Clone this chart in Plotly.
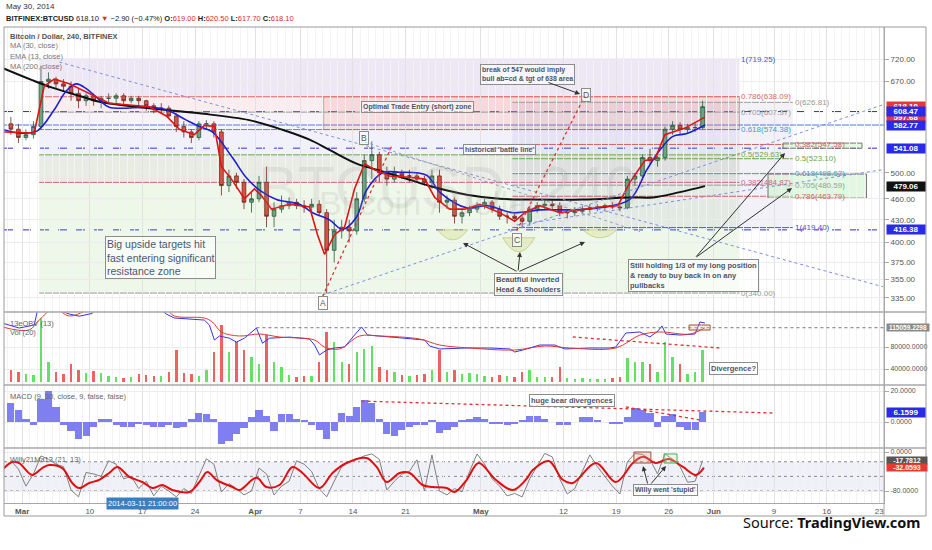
import numpy as np
import pandas as pd
import plotly.graph_objects as go

# ---------------- data ----------------
# daily candles (the original is 4h), Feb 27 - May 30 2014
days = pd.date_range('2014-02-27 12:00', '2014-05-30 12:00', freq='D')

opens = [585, 575,
         560, 565, 580, 670, 675, 665, 660, 645, 630, 640,
         630, 635, 635, 640, 630, 635, 630, 620, 615, 615,
         600, 580, 570, 560, 585, 585, 570, 480, 495, 485, 455,
         460, 485, 435, 445, 450, 455, 450, 448, 452, 440,
         390, 415, 420, 415, 460, 520, 530, 500, 490, 500,
         495, 495, 490, 485, 495, 455, 458, 435, 440, 445,
         450, 455, 445, 435, 435, 432, 428, 445, 450, 452,
         450, 440, 440, 442, 445, 447, 448, 450, 448, 447,
         490, 495, 525, 520, 525, 575, 582, 575, 578, 578]
highs = [598, 585,
         575, 590, 705, 690, 680, 675, 670, 655, 645, 645,
         640, 645, 645, 645, 640, 640, 632, 625, 625, 620,
         605, 590, 575, 590, 592, 590, 575, 505, 500, 490, 470,
         495, 510, 455, 465, 462, 460, 458, 460, 458, 445,
         430, 430, 430, 470, 530, 553, 535, 510, 510, 505,
         505, 500, 495, 505, 505, 465, 462, 445, 450, 455,
         460, 458, 450, 440, 440, 435, 450, 455, 458, 458,
         455, 445, 448, 450, 452, 452, 453, 455, 452, 495,
         500, 530, 540, 528, 580, 590, 588, 585, 588, 630]
lows = [565, 550,
        555, 558, 575, 655, 655, 650, 630, 615, 620, 620,
        615, 625, 625, 620, 625, 620, 610, 605, 605, 595,
        570, 560, 550, 555, 575, 560, 465, 470, 475, 445, 440,
        455, 420, 420, 440, 445, 445, 440, 440, 435, 340,
        375, 405, 400, 410, 455, 490, 485, 480, 485, 490,
        485, 485, 480, 475, 440, 445, 425, 425, 435, 440,
        445, 440, 430, 425, 428, 420, 422, 440, 445, 445,
        435, 432, 435, 438, 440, 442, 443, 445, 442, 445,
        480, 490, 515, 510, 520, 565, 565, 568, 570, 575]
closes = [575, 560,
          565, 580, 670, 675, 665, 660, 645, 630, 640, 630,
          635, 635, 640, 630, 635, 630, 620, 615, 615, 600,
          580, 570, 560, 585, 585, 570, 480, 495, 485, 455, 460,
          485, 435, 445, 450, 455, 450, 448, 452, 440, 390,
          415, 420, 415, 460, 520, 530, 500, 490, 500, 495,
          495, 490, 485, 495, 455, 458, 435, 440, 445, 450,
          455, 445, 435, 435, 432, 428, 445, 450, 452, 450,
          440, 440, 442, 445, 447, 448, 450, 448, 447, 490,
          495, 525, 520, 525, 575, 582, 575, 578, 578, 618.1]
volume = [12000, 10000,
          8000, 7000, 64000, 20000, 10000, 8000, 18000, 12000, 9000, 11000,
          9000, 6000, 5000, 4000, 5000, 8000, 7000, 6000, 6000, 10000,
          32000, 9000, 8000, 6000, 12000, 30000, 57000, 30000, 40000, 32000, 25000,
          18000, 47000, 20000, 15000, 7000, 5000, 6000, 6000, 20000, 50000,
          40000, 20000, 18000, 30000, 33000, 36000, 15000, 12000, 10000, 7000,
          6000, 7000, 8000, 12000, 32000, 10000, 12000, 8000, 9000, 8000,
          6000, 5000, 7000, 6000, 5000, 10000, 12000, 5000, 5000, 5000,
          15000, 4000, 3000, 4000, 3000, 3000, 3000, 4000, 5000, 24000,
          20000, 20000, 18000, 10000, 40000, 25000, 18000, 8000, 10000, 32000]
macd_hist = [12, 8,
             2, -2, 15, 20, 10, -2, -6, -11, -9, -3,
             2, 2, -2, -3, -3, -1, -2, -3, -3, -2,
             -4, -3, 2, 6, 5, 2, -14, -12, -8, -4, 3,
             8, 4, -6, 5, 5, 2, 1, -2, -5, -11,
             -6, 6, 4, 10, 14, 12, 2, -8, -9, -5,
             -3, -2, -2, 1, -7, -5, -3, 1, 2, 3,
             2, -1, -1, -2, -1, 1, 4, 4, 2, 0,
             -2, -2, 0, 3, 3, 1, 0, -1, -1, 3,
             9, 8, 6, -3, 4, 5, -3, -5, -5, 6.16]
willy = [-18, -35,
         -70, -45, -8, -15, -25, -30, -78, -92, -42, -45,
         -50, -18, -25, -55, -50, -75, -60, -90, -70, -80,
         -92, -75, -85, -50, -14, -25, -82, -65, -75, -88, -80,
         -33, -45, -88, -70, -60, -18, -25, -40, -75, -92,
         -60, -30, -20, -15, -8, -4, -15, -78, -60, -45,
         -40, -16, -80, -6, -80, -88, -75, -82, -40, -4,
         -25, -55, -70, -90, -85, -92, -55, -30, -3, -10,
         -55, -86, -75, -40, -6, -30, -50, -70, -86, -20,
         -3, -5, -15, -45, -4, -15, -30, -62, -60, -17.78]

# indicator lines; t = days since 2014-03-01
ema13_t = [-2.66, 1.6, 2.93, 4.26, 6.26, 8.92, 11.58, 16.91, 19.17, 20.91,
           22.90, 24.23, 25.57, 26.50, 27.83, 29.56, 30.89, 31.82, 33.16, 35.55,
           38.22, 39.28, 40.21, 41.54, 42.88, 44.21, 45.54, 46.87, 48.87, 51.53,
           53.53, 54.86, 56.86, 58.86, 60.85, 63.52, 65.51, 66.84, 68.84, 71.50,
           74.17, 76.83, 79.23, 80.83, 82.82, 84.15, 85.49, 88.15, 90.81]
ema13_v = [570, 568, 660, 675, 665, 645, 625, 618, 600, 575,
           565, 582, 580, 510, 490, 460, 475, 465, 445, 452,
           448, 410, 385, 410, 420, 475, 515, 505, 495, 493,
           490, 462, 445, 445, 452, 440, 428, 440, 450, 440,
           444, 448, 450, 485, 520, 522, 565, 577, 597.68]
ma30_t = [-2.66, -0.40, 2.00, 4.26, 5.86, 7.19, 8.52, 10.25, 11.58, 16.91,
          19.17, 21.84, 23.57, 25.30, 27.96, 29.83, 31.56, 33.82, 36.88, 38.62,
          40.88, 42.61, 44.47, 45.81, 47.94, 50.20, 53.79, 55.53, 59.12, 61.78,
          65.25, 68.84, 72.44, 76.83, 80.83, 83.09, 84.82, 86.55, 88.42, 90.81]
ma30_v = [575, 568, 572, 612, 650, 665, 655, 632, 617, 617,
          612, 592, 580, 570, 525, 492, 473, 459, 452, 440,
          430, 417, 434, 473, 500, 501, 496, 470, 447, 450,
          440, 444, 444, 447, 459, 505, 538, 562, 567, 582.77]
ma200_t = [-2.66, 1.33, 4.00, 7.99, 10.25, 16.91, 23.57, 30.2, 34.62, 38.22,
           40.88, 44.47, 47.14, 51.53, 54.59, 59.12, 63.52, 67.91, 74.57, 80.83,
           83.89, 87.48, 90.81]
ma200_v = [700, 673, 657, 638, 628, 615, 605, 592, 574, 556,
           538, 515, 505, 489, 478, 466, 460, 459, 459, 462,
           462, 470, 479.06]
obv_t = [-2.66, -0.40, 1.60, 2.26, 4.26, 6.26, 7.59, 9.32, 10.25, 14.25,
         18.24, 19.17, 20.24, 22.24, 24.23, 24.90, 25.57, 26.23, 27.56, 28.50,
         29.56, 31.16, 31.96, 32.89, 35.55, 38.22, 38.88, 39.55, 40.48, 41.54,
         42.88, 44.21, 45.14, 45.94, 47.54, 50.20, 53.53, 54.19, 55.53, 59.12,
         62.18, 64.85, 65.51, 66.58, 68.84, 70.84, 72.17, 75.50, 78.16, 78.96,
         80.29, 82.16, 83.49, 84.55, 85.09, 85.62, 87.48, 89.48, 90.15, 90.81]
obv_v = [123600, 114500, 120000, 160000, 150000, 140000, 136000, 141000, 155000, 160000,
         150000, 140000, 132700, 131000, 129000, 120000, 92700, 100000, 96000, 89000,
         96000, 114500, 87000, 96000, 98000, 94500, 83600, 65500, 74500, 78200,
         80000, 101800, 116400, 101800, 100000, 96400, 92700, 81800, 76400, 78200,
         78200, 76400, 70900, 74500, 83600, 83600, 76400, 78200, 78200, 80000,
         105400, 107300, 98200, 109000, 118200, 103600, 101800, 103600, 125500, 123600]
obv_sig_t = [-2.66, 0.93, 2.26, 4.26, 6.26, 9.59, 18.91, 20.24, 24.23, 25.30,
             26.50, 28.90, 31.56, 34.22, 38.88, 40.21, 42.21, 44.87, 47.54, 52.86,
             55.53, 59.52, 65.51, 69.51, 72.84, 78.96, 82.16, 84.82, 88.82, 90.81]
obv_sig_v = [116400, 111000, 129000, 150000, 136400, 150000, 150000, 136400, 132700, 125500,
             107300, 100000, 103600, 98200, 92700, 80000, 76400, 100000, 100000, 94500,
             83600, 78200, 74500, 81800, 78200, 78200, 101800, 107300, 103600, 115059.23]
willy_ma_t = [-2.66, -1.33, -0.40, 1.33, 2.66, 3.60, 5.33, 6.66, 7.59, 8.92,
              10.25, 11.58, 12.65, 14.25, 15.98, 17.31, 18.64, 19.97, 22.24, 23.57,
              24.63, 25.83, 27.96, 28.90, 31.16, 32.49, 34.22, 35.95, 37.28, 39.55,
              41.28, 43.14, 45.81, 47.14, 48.47, 50.20, 51.53, 53.26, 54.59, 56.46,
              57.52, 59.12, 60.72, 62.98, 65.25, 66.98, 67.91, 70.04, 71.90, 73.24,
              76.30, 78.96, 81.23, 82.56, 84.29, 86.02, 87.88, 89.61, 90.68]
willy_ma_v = [-37, -20.5, -23, -47, -33, -26.7, -33, -63.6, -74, -63.6,
              -57, -43, -30.7, -51, -61.5, -74, -67.7, -78, -82, -61.5,
              -41, -57, -71.8, -78, -53, -71.8, -67.7, -30.7, -43, -74,
              -43, -22.6, -12.3, -30.7, -61.5, -43, -43, -67.7, -71.8, -74,
              -82, -57, -22.6, -57, -78, -57, -37, -18.5, -57, -63.6,
              -22.6, -61.5, -22.6, -10, -22.6, -14.4, -30.7, -47, -32.06]

# drawings on the chart
fib1_levels = ['1', '0.786', '0.705', '0.618', '0.5', '0.382', '0']
fib1_prices = [719.25, 638.09, 607.37, 574.38, 529.63, 484.87, 340.00]
fib1_span = [2.26, 95.4]
fib2_levels = ['0', '0.382', '0.5', '0.618', '0.705', '0.786', '1']
fib2_prices = [626.81, 547.58, 523.10, 498.63, 480.59, 463.79, 419.40]
fib2_span = [65.2, 102.5]
ote_span = [40.1, 95.4]
ote_prices = [638.09, 574.38]
hlines = [608.47, 582.77, 541.08, 416.38]
target_t0 = [101.2, 99.2]
target_t1 = [111.7, 112.3]
target_top = [550, 498]
target_bot = [541, 461]
trend_t0 = [4.93, 39.95, 65.78, 45.54, 39.95, 65.78]
trend_p0 = [713, 338, 423, 552, 336, 415]
trend_t1 = [114.5, 114.5, 114.5, 82.16, 49.13, 74.57]
trend_p1 = [347, 622, 505, 414, 544, 632]
hs_t = [57.26, 66.05, 76.83]
hs_p = [416.4, 406, 416.4]

# ---------------- helpers ----------------
T0 = pd.Timestamp('2014-03-01')


def at(t):
    if np.ndim(t) == 0:
        return T0 + pd.Timedelta(days=float(t))
    return T0 + pd.to_timedelta(np.asarray(t, dtype=float), unit='D')


def ds(t):
    return at(t).strftime('%Y-%m-%d %H:%M:%S')


W, H = 932, 550
ML, MR, MT, MB = 4, 48, 27, 47
PW, PH = W - ML - MR, H - MT - MB


def px(x, y):
    return (x - ML) / PW, (H - MB - y) / PH


def dom(ytop, ybot):
    return [(H - MB - ybot) / PH, (H - MB - ytop) / PH]


FONT = 'Liberation Sans, Arial, sans-serif'
ann = []
shp = []


def note(x, y, text, size=7.5, color='#4d5566', box=True, xanchor='left', bold=True, **kw):
    xp, yp = px(x, y)
    d = dict(x=xp, y=yp, xref='paper', yref='paper', xanchor=xanchor, yanchor='middle',
             text=f'<b>{text}</b>' if bold else text, showarrow=False, align='left',
             font=dict(family=FONT, size=size, color=color))
    if box:
        d.update(bgcolor='rgba(255,255,255,0.55)', bordercolor='#8c8c8c', borderwidth=1, borderpad=1)
    d.update(kw)
    ann.append(d)


def arrow(hx, hy, tx, ty):
    xp, yp = px(hx, hy)
    ann.append(dict(x=xp, y=yp, xref='paper', yref='paper', ax=tx - hx, ay=ty - hy,
                    text='', showarrow=True, arrowhead=2, arrowsize=1, arrowwidth=1,
                    arrowcolor='#333'))


def price_box(val, text, color, yref='y', width=38, size=8):
    yv = np.log10(val) if yref == 'y' else val
    ann.append(dict(x=1.002, y=yv, xref='paper', yref=yref, xanchor='left', yanchor='middle',
                    text=f'<b>{text}</b>', showarrow=False, bgcolor=color, width=width,
                    font=dict(family=FONT, size=size, color='white'), borderpad=0))


fig = go.Figure()

# ---------------- main price panel ----------------
fib1_cols = ['#5050d8', '#e06666', '#9a9a9a', '#3d9cc8', '#6aa84f', '#d4608a', '#9a9a9a']
fib1_fill = ['rgba(150,110,200,0.16)', 'rgba(225,110,130,0.13)', 'rgba(190,140,190,0.10)',
             'rgba(130,140,210,0.12)', 'rgba(120,140,90,0.17)', 'rgba(140,205,110,0.15)']
for i in range(len(fib1_prices) - 1):
    shp.append(dict(type='rect', xref='x', yref='y', x0=ds(fib1_span[0]), x1=ds(fib1_span[1]),
                    y0=fib1_prices[i + 1], y1=fib1_prices[i], fillcolor=fib1_fill[i],
                    line=dict(width=0), layer='below'))
shp.append(dict(type='rect', xref='x', yref='y', x0=ds(fib2_span[0]), x1=ds(fib2_span[1]),
                y0=fib2_prices[-1], y1=fib2_prices[0], fillcolor='rgba(150,140,200,0.12)',
                line=dict(width=0), layer='below'))
shp.append(dict(type='rect', xref='x', yref='y', x0=ds(ote_span[0]), x1=ds(ote_span[1]),
                y0=ote_prices[1], y1=ote_prices[0], fillcolor='rgba(235,110,110,0.16)',
                line=dict(width=1, color='rgba(200,90,90,0.5)'), layer='below'))
for lvl, p, c in zip(fib1_levels, fib1_prices, fib1_cols):
    shp.append(dict(type='line', xref='x', yref='y', x0=ds(fib1_span[0]), x1=ds(fib1_span[1]),
                    y0=p, y1=p, line=dict(color=c, width=1), layer='below'))
    ann.append(dict(x=ds(fib1_span[1]), y=np.log10(p), xref='x', yref='y', xanchor='left',
                    yanchor='middle', text=f'{lvl}({p:.2f})', showarrow=False,
                    font=dict(family=FONT, size=8, color=c)))
fib2_cols = ['#9a9a9a', '#cc6666', '#6aa84f', '#3d9cc8', '#9a9a9a', '#cc6666', '#5050d8']
for lvl, p, c in zip(fib2_levels, fib2_prices, fib2_cols):
    shp.append(dict(type='line', xref='x', yref='y', x0=ds(fib2_span[0]), x1=ds(fib2_span[1]),
                    y0=p, y1=p, line=dict(color=c, width=1), layer='below'))
    ann.append(dict(x=ds(fib2_span[1]), y=np.log10(p), xref='x', yref='y', xanchor='left',
                    yanchor='middle', text=f'{lvl}({p:.2f})', showarrow=False,
                    font=dict(family=FONT, size=8, color=c)))

# full width horizontal levels
for p, dash in zip(hlines, ['dash', 'solid', 'dash', 'dash']):
    shp.append(dict(type='line', xref='paper', yref='y', x0=0, x1=1, y0=p, y1=p,
                    line=dict(color='#2b2bd0' if dash == 'dash' else '#4a78e0', width=1, dash=dash),
                    layer='below'))

# target boxes
for a, b, top, bot in zip(target_t0, target_t1, target_top, target_bot):
    shp.append(dict(type='rect', xref='x', yref='y', x0=ds(a), x1=ds(b), y0=bot, y1=top,
                    fillcolor='rgba(205,245,205,0.6)', line=dict(color='#777', width=1), layer='below'))

# trend lines
trend_style = [('#7c8ee0', 'dot'), ('#7c8ee0', 'dot'), ('#7c8ee0', 'dot'),
               ('#9aa0b8', 'dot'), ('#e03030', 'dot'), ('#e03030', 'dot')]
for a, pa, b, pb, (c, d) in zip(trend_t0, trend_p0, trend_t1, trend_p1, trend_style):
    shp.append(dict(type='line', xref='x', yref='y', x0=ds(a), y0=pa, x1=ds(b), y1=pb,
                    line=dict(color=c, width=1.3 if c == '#e03030' else 1, dash=d)))

# inverted H&S bowls
for t, p, hw, dp in zip(hs_t, hs_p, [15, 16, 17], [20, 28, 16]):
    shp.append(dict(type='path', xref='x', yref='y', xsizemode='pixel', ysizemode='pixel',
                    xanchor=ds(t), yanchor=p, path=f'M {-hw},0 Q 0,{-dp} {hw},0 Z',
                    fillcolor='rgba(215,225,150,0.45)', line=dict(color='rgba(180,190,100,0.6)', width=1)))

fig.add_trace(go.Candlestick(
    x=days, open=opens, high=highs, low=lows, close=closes, xaxis='x', yaxis='y',
    increasing=dict(line=dict(color='#2d5a3c', width=0.8), fillcolor='#6ba583'),
    decreasing=dict(line=dict(color='#6b2a20', width=0.8), fillcolor='#d75442'),
    whiskerwidth=0, showlegend=False))
fig.add_trace(go.Scatter(x=at(ma200_t), y=ma200_v, mode='lines', line=dict(color='#111', width=2),
                         line_shape='spline', xaxis='x', yaxis='y', showlegend=False))
fig.add_trace(go.Scatter(x=at(ma30_t), y=ma30_v, mode='lines', line=dict(color='#1f1fd0', width=1.6),
                         line_shape='spline', xaxis='x', yaxis='y', showlegend=False))
fig.add_trace(go.Scatter(x=at(ema13_t), y=ema13_v, mode='lines', line=dict(color='#e01414', width=1.6),
                         xaxis='x', yaxis='y', showlegend=False))

# ---------------- OBV / volume panel ----------------
vol_cols = ['rgba(70,220,70,0.85)' if c >= o else 'rgba(235,70,70,0.85)' for o, c in zip(opens, closes)]
fig.add_trace(go.Bar(x=days, y=volume, marker=dict(color=vol_cols, line=dict(width=0)),
                     width=86400000 * 0.32, xaxis='x', yaxis='y2', showlegend=False))
fig.add_trace(go.Scatter(x=at(obv_t), y=obv_v, mode='lines', line=dict(color='#3535e0', width=1),
                         xaxis='x', yaxis='y3', showlegend=False))
fig.add_trace(go.Scatter(x=at(obv_sig_t), y=obv_sig_v, mode='lines', line=dict(color='#e03a3a', width=1),
                         line_shape='spline', xaxis='x', yaxis='y3', showlegend=False))
shp.append(dict(type='line', xref='x', yref='y3', x0=ds(31.16), x1=ds(114.6), y0=115059.23, y1=115059.23,
                line=dict(color='#777', width=1, dash='dot')))
shp.append(dict(type='line', xref='x', yref='y3', x0=ds(73.24), x1=ds(92.8), y0=98200, y1=78200,
                line=dict(color='#e03030', width=1.3, dash='dot')))
shp.append(dict(type='rect', xref='x', yref='y3', x0=ds(88.7), x1=ds(91.5), y0=110900, y1=120000,
                line=dict(color='#a0522d', width=1), fillcolor='rgba(230,200,180,0.3)'))

# ---------------- MACD panel ----------------
fig.add_trace(go.Bar(x=days, y=macd_hist, marker=dict(color='rgba(105,105,240,0.85)', line=dict(width=0)),
                     width=86400000 * 0.95, xaxis='x', yaxis='y4', showlegend=False))
shp.append(dict(type='line', xref='x', yref='y4', x0=ds(45.14), x1=ds(99.9), y0=13.5, y1=5.8,
                line=dict(color='#e03030', width=1.3, dash='dot')))
shp.append(dict(type='line', xref='x', yref='y4', x0=ds(80.29), x1=ds(90.15), y0=9.7, y1=1.3,
                line=dict(color='#e03030', width=1.3, dash='dot')))

# ---------------- Willy panel ----------------
shp.append(dict(type='rect', xref='paper', yref='y5', x0=0, x1=1, y0=-80, y1=-20,
                fillcolor='rgba(160,160,220,0.16)', line=dict(width=0), layer='below'))
for lv in [-20, -50, -80]:
    shp.append(dict(type='line', xref='paper', yref='y5', x0=0, x1=1, y0=lv, y1=lv,
                    line=dict(color='#888', width=1, dash='dot'), layer='below'))
fig.add_trace(go.Scatter(x=days, y=willy, mode='lines', line=dict(color='#808080', width=1),
                         xaxis='x', yaxis='y5', showlegend=False))
fig.add_trace(go.Scatter(x=at(willy_ma_t), y=willy_ma_v, mode='lines', line=dict(color='#e01010', width=2),
                         line_shape='spline', xaxis='x', yaxis='y5', showlegend=False))
shp.append(dict(type='rect', xref='x', yref='y5', x0=ds(81.36), x1=ds(83.62), y0=-22.6, y1=0,
                line=dict(color='#a0522d', width=1), fillcolor='rgba(220,150,150,0.3)'))
shp.append(dict(type='rect', xref='x', yref='y5', x0=ds(85.36), x1=ds(87.1), y0=-22.6, y1=-4,
                line=dict(color='#4caf50', width=1), fillcolor='rgba(180,230,180,0.3)'))

# ---------------- frame & separators ----------------
xr = (926 - ML) / PW
yb = (H - MB - 516) / PH
shp.append(dict(type='rect', xref='paper', yref='paper', x0=0, x1=xr, y0=yb, y1=1,
                line=dict(color='#9a9a9a', width=1)))
for ysep in [312, 385, 448]:
    yp = (H - MB - ysep) / PH
    shp.append(dict(type='line', xref='paper', yref='paper', x0=0, x1=xr, y0=yp, y1=yp,
                    line=dict(color='#a8a8a8', width=1.5)))
shp.append(dict(type='line', xref='paper', yref='paper', x0=1, x1=1, y0=yb, y1=1,
                line=dict(color='#a8a8a8', width=1)))

# ---------------- texts ----------------
ann.append(dict(x=px(448, 152)[0], y=px(448, 152)[1], xref='paper', yref='paper', showarrow=False,
                text='BTCUSD, 240', font=dict(family=FONT, size=60, color='rgba(150,150,150,0.16)')))
ann.append(dict(x=px(428, 203)[0], y=px(428, 203)[1], xref='paper', yref='paper', showarrow=False,
                text='Bitcoin / Dollar', font=dict(family=FONT, size=34, color='rgba(150,150,150,0.18)')))

note(4, 7, 'May 30, 2014', size=8, color='#333', box=False, bold=False)
RED = '#d32f2f'
note(4, 18, ("<b>BITFINEX:BTCUSD</b> 618.10 <span style='color:%s'>▼</span> −2.90 (−0.47%%) "
             "<b>O:</b><span style='color:%s'>619.00</span> <b>H:</b><span style='color:%s'>620.50</span> "
             "<b>L:</b><span style='color:%s'>617.70</span> <b>C:</b><span style='color:%s'>618.10</span>")
     % (RED, RED, RED, RED, RED), size=7.5, color='#222', box=False, bold=False)

note(8, 36, 'Bitcoin / Dollar, 240, BITFINEX', size=7.5, color='#555', box=False)
note(8, 46, 'MA (30, close)', size=7.5, color='#777', box=False, bold=False)
note(8, 56, 'EMA (13, close)', size=7.5, color='#777', box=False, bold=False)
note(8, 66, 'MA (200, close)', size=7.5, color='#777', box=False, bold=False)
note(8, 323, '13eOBV (13)', size=7.5, color='#666', box=False, bold=False)
note(8, 333, 'Vol (20)', size=7.5, color='#666', box=False, bold=False)
note(8, 396, 'MACD (9, 30, close, 9, false, false)', size=7.5, color='#666', box=False, bold=False)
note(8, 459, 'Willy21Ma13 (21, 13)', size=7.5, color='#666', box=False, bold=False)

note(105, 257, 'Big upside targets hit<br>fast entering significant<br>resistance zone', size=10.5,
     color='#4a5870', bold=False)
note(494, 284, 'Beautfiul inverted<br>Head &amp; Shoulders', size=7.5)
note(628, 275, 'Still holding 1/3 of my long position<br>&amp; ready to buy back in on any<br>pullbacks', size=7.5)
note(480, 75, 'break of 547 would imply<br>bull ab=cd &amp; tgt of 638 area', size=7)
note(361, 107, 'Optimal Trade Entry (short) zone', size=7)
note(463, 149, "historical 'battle line'", size=7)
note(709, 368, 'Divergence?', size=7.5)
note(529, 400, 'huge bear divergences', size=7.5)
note(633, 490, "Willy went 'stupid'", size=7)
for lab, x, y in [('D', 586, 95), ('B', 364, 138), ('A', 323, 303), ('C', 517, 240)]:
    note(x, y, lab, size=8.5, xanchor='center', bold=False, color='#555')

arrow(580, 94, 547, 82)
arrow(463, 243, 518, 272)
arrow(520, 252, 518, 272)
arrow(585, 242, 518, 272)
arrow(785, 153, 695, 258)
arrow(792, 188, 695, 258)
arrow(643, 466, 648, 485)
arrow(666, 466, 650, 485)

# price boxes on the axes
price_box(618.10, '618.10', '#e53935')
price_box(597.68, '597.68', '#e53935')
price_box(608.47, '608.47', '#2a2ae8')
price_box(582.77, '582.77', '#2a2ae8')
price_box(541.08, '541.08', '#2a2ae8')
price_box(479.06, '479.06', '#111111')
price_box(416.38, '416.38', '#2a2ae8')
price_box(115059.23, '115059.2298', '#8a8a8a', yref='y3', width=42, size=6.5)
price_box(6.1599, '6.1599', '#2a2ae8', yref='y4')
price_box(-17.7812, '-17.7812', '#555555', yref='y5', width=40, size=7)
price_box(-32.0593, '-32.0593', '#e53935', yref='y5', width=40, size=7)

xd = px(106, 510)
ann.append(dict(x=xd[0], y=xd[1], xref='paper', yref='paper', showarrow=False,
                text='2014-03-11 21:00:00', bgcolor='#3c7fc0', borderpad=1,
                font=dict(family=FONT, size=7.5, color='white')))
sp = px(923, 534)
ann.append(dict(x=sp[0], y=sp[1], xref='paper', yref='paper', xanchor='right', showarrow=False,
                text='Source: <b>TradingView.com</b>',
                font=dict(family='Noto Sans, Open Sans, sans-serif', size=14.5, color='#111')))

# ---------------- axes ----------------
tick_dates = ['2014-03-01', '2014-03-10', '2014-03-17', '2014-03-24', '2014-04-01', '2014-04-07',
              '2014-04-14', '2014-04-21', '2014-05-01', '2014-05-12', '2014-05-19', '2014-05-26',
              '2014-06-01', '2014-06-09', '2014-06-16', '2014-06-23']
tick_text = ['<b>Mar</b>', '10', '17', '24', '<b>Apr</b>', '7', '14', '21', '<b>May</b>', '12', '19',
             '26', '<b>Jun</b>', '9', '16', '23']
# 540 / 580 / 620 sit under the coloured price boxes in the original, so they are left out
price_ticks = [335, 355, 375, 400, 430, 460, 500, 670, 720]

axfont = dict(family=FONT, size=8, color='#555')
subfont = dict(family=FONT, size=7, color='#555')
yax = dict(side='right', showgrid=True, gridcolor='#ececec', zeroline=False, showline=True,
           linecolor='#a8a8a8', ticks='outside', ticklen=4, tickcolor='#a8a8a8', tickfont=axfont,
           anchor='x', fixedrange=True)

fig.update_layout(
    width=W, height=H, margin=dict(l=ML, r=MR, t=MT, b=MB),
    paper_bgcolor='white', plot_bgcolor='white', showlegend=False, bargap=0,
    xaxis=dict(domain=[0, 1], anchor='y5', range=['2014-02-26 14:00', '2014-06-23 15:00'],
               tickvals=tick_dates, ticktext=tick_text, tickfont=axfont, showgrid=True,
               gridcolor='#e2e2e2', showline=True, linecolor='#a8a8a8', ticks='', zeroline=False,
               rangeslider=dict(visible=False),
               minor=dict(dtick=86400000, tick0='2014-03-01', showgrid=True, gridcolor='#f3f3f3')),
    yaxis=dict(yax, domain=dom(27, 312), type='log', range=[np.log10(320), np.log10(798)],
               tickvals=price_ticks, ticktext=[f'{v:.2f}' for v in price_ticks]),
    yaxis2=dict(domain=dom(312, 385), anchor='x', range=[-3000, 70000], visible=False, fixedrange=True),
    yaxis3=dict(yax, overlaying='y2', range=[10909, 143636], tickvals=[40000, 80000],
                ticktext=['40000.0000', '80000.0000'], tickfont=subfont),
    yaxis4=dict(yax, domain=dom(385, 448), range=[-16.8, 23.9], tickvals=[0, 20],
                ticktext=['0.0000', '20.0000'], tickfont=subfont),
    yaxis5=dict(yax, domain=dom(448, 503), range=[-104.6, 8.2], tickvals=[0, -80],
                ticktext=['0.0000', '-80.0000'], tickfont=subfont),
    shapes=shp, annotations=ann,
)

# the page body has a default 8px margin; drop it so the figure sits at the window origin
fig.write_html('out.html', config={'displayModeBar': False},
               post_script="document.body.style.margin='0';")
